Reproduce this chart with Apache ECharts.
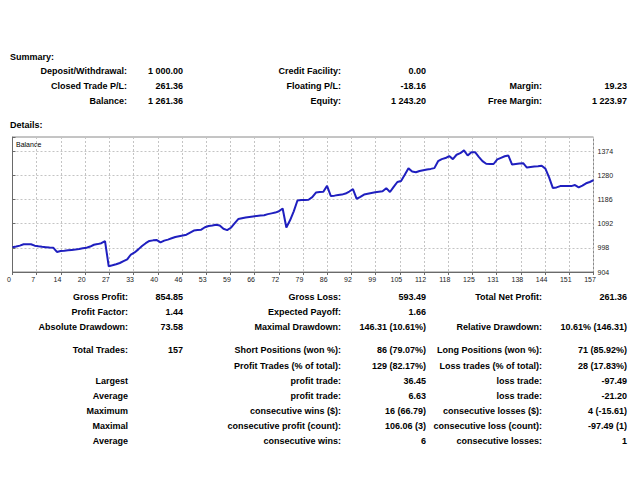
<!DOCTYPE html>
<html>
<head>
<meta charset="utf-8">
<script src="https://cdn.jsdelivr.net/npm/echarts@6/dist/echarts.min.js"></script>
<style>
html,body{margin:0;padding:0;background:#fff;}
#chart{width:640px;height:480px;}
</style>
</head>
<body>
<div id="chart"></div>
<script>
// ---- data ----
const balance = [
  1000, 1003, 1006.5, 1011.7, 1011.5, 1011.7, 1006.5, 1004, 1002, 1000.5,
  999, 998.5, 982, 986, 987, 988.5, 990, 991.5, 993.5, 996,
  998.5, 1003, 1010, 1012.5, 1016, 1023.9, 926.42, 930, 934, 939,
  946, 953, 972, 980, 992, 1005, 1016, 1025, 1027, 1028,
  1019, 1026, 1030, 1035, 1040, 1043, 1046, 1049, 1057, 1065,
  1067, 1068.5, 1078, 1083, 1085, 1088, 1085, 1072, 1067, 1076,
  1093, 1110, 1113, 1116, 1118, 1120, 1122, 1123.5, 1125, 1129,
  1132, 1135, 1140, 1151, 1077, 1105, 1140, 1182, 1184, 1184,
  1185, 1195, 1213, 1215, 1216, 1239, 1200, 1201, 1203, 1205,
  1209, 1217, 1226, 1188, 1196, 1205, 1208, 1211, 1214, 1216,
  1218, 1230, 1215, 1235, 1254, 1258, 1282, 1307, 1295, 1292,
  1297, 1300, 1303, 1305, 1308, 1335, 1343, 1347, 1355, 1343,
  1360, 1366, 1377, 1357, 1370, 1370, 1352, 1335, 1325, 1324,
  1324, 1342, 1348, 1354, 1357, 1322, 1324, 1326, 1327, 1310,
  1312, 1314, 1315, 1317, 1306, 1272, 1231, 1233, 1238, 1238,
  1238, 1238, 1242, 1233, 1240, 1249, 1254, 1261.36
];
const xTickLabels = ['0','7','14','20','27','33','40','46','53','59','66','72','79','86','92','99','105','112','118','125','131','138','144','151','157'];
const yTickLabels = [904, 998, 1092, 1186, 1280, 1374];
const yAxisMax = 1429;
const seriesName = 'Balance';

const summaryLabels1 = ['Deposit/Withdrawal:', 'Closed Trade P/L:', 'Balance:'];
const summaryValues1 = ['1 000.00', '261.36', '1 261.36'];
const summaryLabels2 = ['Credit Facility:', 'Floating P/L:', 'Equity:'];
const summaryValues2 = ['0.00', '-18.16', '1 243.20'];
const summaryLabels3 = ['', 'Margin:', 'Free Margin:'];
const summaryValues3 = ['', '19.23', '1 223.97'];

const detailLabels1 = ['Gross Profit:', 'Profit Factor:', 'Absolute Drawdown:', 'Total Trades:', '', 'Largest', 'Average', 'Maximum', 'Maximal', 'Average'];
const detailValues1 = ['854.85', '1.44', '73.58', '157', '', '', '', '', '', ''];
const detailLabels2 = ['Gross Loss:', 'Expected Payoff:', 'Maximal Drawdown:', 'Short Positions (won %):', 'Profit Trades (% of total):', 'profit trade:', 'profit trade:', 'consecutive wins ($):', 'consecutive profit (count):', 'consecutive wins:'];
const detailValues2 = ['593.49', '1.66', '146.31 (10.61%)', '86 (79.07%)', '129 (82.17%)', '36.45', '6.63', '16 (66.79)', '106.06 (3)', '6'];
const detailLabels3 = ['Total Net Profit:', '', 'Relative Drawdown:', 'Long Positions (won %):', 'Loss trades (% of total):', 'loss trade:', 'loss trade:', 'consecutive losses ($):', 'consecutive loss (count):', 'consecutive losses:'];
const detailValues3 = ['261.36', '', '10.61% (146.31)', '71 (85.92%)', '28 (17.83%)', '-97.49', '-21.20', '4 (-15.61)', '-97.49 (1)', '1'];

// ---- layout ----
const FONT = '"Liberation Sans", Arial, sans-serif';
const summaryRowsY = [71, 86, 101];
const detailRowsY = [297, 312, 327, 350, 366, 381, 396, 411, 426, 441];
const colRight = [128, 183, 341, 426, 542, 627];

function txt(text, x, y, align, opts) {
  opts = opts || {};
  return {
    type: 'text', silent: true,
    style: {
      text: text, x: x, y: y,
      align: align, textAlign: align,
      verticalAlign: 'middle', textVerticalAlign: 'middle',
      fontFamily: FONT, fontSize: opts.size || 9,
      fontWeight: opts.weight || 'bold',
      fill: opts.color || '#000'
    }
  };
}

const graphics = [];
graphics.push(txt('Summary:', 10, 57, 'left'));
graphics.push(txt('Details:', 10, 125, 'left'));
const sCols = [[summaryLabels1, summaryValues1], [summaryLabels2, summaryValues2], [summaryLabels3, summaryValues3]];
sCols.forEach(function (pair, c) {
  pair[0].forEach(function (t, r) { if (t) graphics.push(txt(t, colRight[c * 2] - (c === 0 ? 1 : 0), summaryRowsY[r], 'right')); });
  pair[1].forEach(function (t, r) { if (t) graphics.push(txt(t, colRight[c * 2 + 1], summaryRowsY[r], 'right')); });
});
const dCols = [[detailLabels1, detailValues1], [detailLabels2, detailValues2], [detailLabels3, detailValues3]];
dCols.forEach(function (pair, c) {
  pair[0].forEach(function (t, r) { if (t) graphics.push(txt(t, colRight[c * 2], detailRowsY[r], 'right')); });
  pair[1].forEach(function (t, r) { if (t) graphics.push(txt(t, colRight[c * 2 + 1], detailRowsY[r], 'right')); });
});
graphics.push(txt(seriesName, 16, 144, 'left', { size: 7, weight: 'normal' }));

const nLast = balance.length - 1;
const xInterval = nLast / (xTickLabels.length - 1);

const chart = echarts.init(document.getElementById('chart'), null, { renderer: 'svg' });
chart.setOption({
  animation: false,
  backgroundColor: '#fff',
  grid: {
    left: 12.5, right: 46.5, top: 137, bottom: 208,
    show: true, borderColor: '#8a8a8a', borderWidth: 1, backgroundColor: '#fff'
  },
  xAxis: {
    type: 'value', min: 0, max: nLast, interval: xInterval,
    axisLine: { show: true, lineStyle: { color: '#6a6a6a', width: 1 } },
    axisTick: { show: true, length: 3, lineStyle: { color: '#6a6a6a' } },
    splitLine: { show: true, lineStyle: { color: '#c4c4c4', type: [2, 2], width: 1 } },
    axisLabel: {
      fontSize: 7, color: '#222', fontFamily: FONT, margin: 4,
      padding: [0, 7, 0, 0], showMinLabel: true, showMaxLabel: true,
      formatter: function (v) {
        const k = Math.round(v / xInterval);
        return Math.abs(k * xInterval - v) < 1e-6 && xTickLabels[k] !== undefined ? xTickLabels[k] : '';
      }
    }
  },
  yAxis: {
    type: 'value', position: 'right',
    min: yTickLabels[0], max: yAxisMax, interval: yTickLabels[1] - yTickLabels[0],
    axisLine: { show: true, lineStyle: { color: '#6a6a6a', width: 1 } },
    axisTick: { show: true, length: 3, lineStyle: { color: '#6a6a6a' } },
    splitLine: { show: true, lineStyle: { color: '#c4c4c4', type: [2, 2], width: 1 } },
    axisLabel: {
      fontSize: 7, color: '#222', fontFamily: FONT, margin: 4,
      showMinLabel: true, showMaxLabel: true,
      formatter: function (v) { return yTickLabels.indexOf(Math.round(v)) >= 0 ? String(Math.round(v)) : ''; }
    }
  },
  series: [{
    name: seriesName, type: 'line',
    data: balance.map(function (v, i) { return [i, v]; }),
    showSymbol: false, symbol: 'none',
    lineStyle: { color: '#1f1fbf', width: 2 },
    itemStyle: { color: '#1f1fbf' }
  }],
  graphic: graphics
});
</script>
</body>
</html>
